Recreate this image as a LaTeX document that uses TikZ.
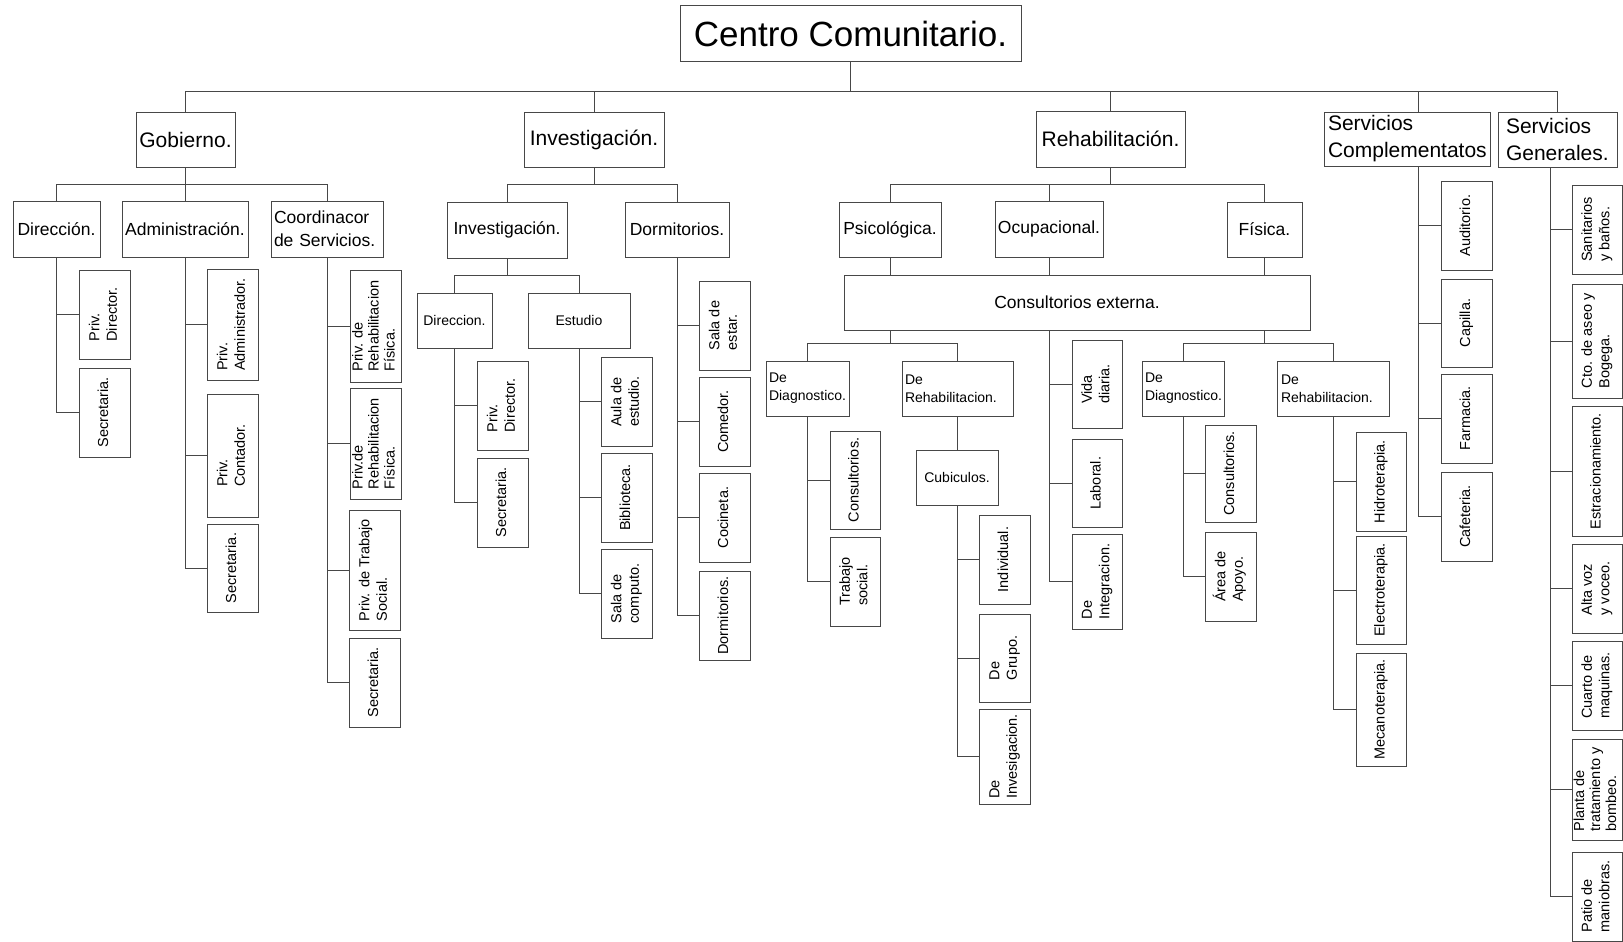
\documentclass[tikz,border=0pt]{standalone}
\usepackage{fontspec}
\setmainfont{Liberation Sans}
\usepackage{graphicx}
\usetikzlibrary{calc}
\newcommand\obox[7][]{\node[box,minimum width={#5-#3},minimum height={#6-#4},#1] (#2) at ({(#3+#5)/2},{(#4+#6)/2}) {#7};}
\newcommand\vtxt[1]{\rotatebox{90}{\begin{tabular}{@{}l@{}}#1\end{tabular}}}
\tikzset{
  box/.style={draw=black!72, line width=1pt, inner sep=0pt, align=center},
  fA/.style={font=\fontsize{35}{42}\selectfont},
  fB/.style={font=\fontsize{21}{27}\selectfont},
  fC/.style={font=\fontsize{17.5}{22.7}\selectfont},
  fD/.style={font=\fontsize{14}{18}\selectfont},
  fV/.style={font=\fontsize{14.5}{17.5}\selectfont},
  fV3/.style={font=\fontsize{14.5}{16}\selectfont},
  con/.style={draw=black!72, line width=1pt},
}
\begin{document}
\begin{tikzpicture}[x=1pt,y=-1pt]
\useasboundingbox (0,0) rectangle (1623,942);
% level 0 and 1
\obox[fA]{centro}{680}{6}{1021}{62}{Centro Comunitario.}
\obox[fB]{gob}{136}{112}{235}{167}{Gobierno.}
\obox[fB]{inv}{524}{112}{664}{167}{Investigación.}
\obox[fB]{reh}{1036}{111}{1185}{167}{Rehabilitación.}
\obox[fB,align=left,text width=158]{sc}{1324}{112}{1490}{166}{Servicios\\Complementatos}
\obox[fB,align=left,text width=103]{sg}{1498}{112}{1617}{167}{Servicios\\Generales.}
% level 2
\obox[fC]{dir}{13}{201}{100}{257}{Dirección.}
\obox[fC]{adm}{122}{201}{248}{257}{Administración.}
\obox[fC,align=left,text width=106]{coo}{271}{201}{383}{257}{Coordinacor\\de Servicios.}
\obox[fC]{invs}{447}{202}{567}{258}{Investigación.}
\obox[fC]{dorm}{625}{202}{729}{257}{Dormitorios.}
\obox[fC]{psic}{839}{202}{941}{257}{Psicológica.}
\obox[fC]{ocup}{995}{201}{1103}{257}{Ocupacional.}
\obox[fC]{fis}{1227}{202}{1302}{257}{Física.}
\obox[fC]{ce}{844}{275}{1310}{330}{Consultorios externa.}
% level 3
\obox[fD]{dirc}{417}{293}{492}{348}{Direccion.}
\obox[fD]{est}{528}{293}{630}{348}{Estudio}
\obox[fD,align=left,text width=77]{dd1}{766}{361}{849}{416}{De\\Diagnostico.}
\obox[fD,align=left,text width=105]{dr1}{902}{361}{1013}{416}{De\\Rehabilitacion.}
\obox[fD,align=left,text width=76]{dd2}{1142}{361}{1224}{416}{De\\Diagnostico.}
\obox[fD,align=left,text width=104]{dr2}{1277}{361}{1389}{416}{De\\Rehabilitacion.}
\obox[fD]{cub}{916}{450}{998}{505}{Cubiculos.}
% vertical boxes
\obox[fV]{pdir}{79}{270}{130}{359}{\vtxt{Priv.\\Director.}}
\obox[fV]{sec1}{79}{368}{130}{457}{\vtxt{Secretaria.}}
\obox[fV]{padm}{207}{269}{258}{380}{\vtxt{Priv.\\Administrador.}}
\obox[fV]{pcont}{207}{394}{258}{517}{\vtxt{Priv.\\Contador.}}
\obox[fV]{sec2}{207}{524}{258}{612}{\vtxt{Secretaria.}}
\obox[fV3]{prf1}{350}{270}{401}{382}{\vtxt{Priv. de\\Rehabilitacion\\Física.}}
\obox[fV3]{prf2}{350}{388}{401}{499}{\vtxt{Priv.de\\Rehabilitacion\\Física.}}
\obox[fV]{pts}{349}{510}{400}{630}{\vtxt{Priv. de Trabajo\\Social.}}
\obox[fV]{sec3}{349}{638}{400}{727}{\vtxt{Secretaria.}}
\obox[fV]{pdir2}{477}{361}{528}{450}{\vtxt{Priv.\\Director.}}
\obox[fV]{sec4}{477}{458}{528}{547}{\vtxt{Secretaria.}}
\obox[fV]{aula}{601}{357}{652}{446}{\vtxt{Aula de\\estudio.}}
\obox[fV]{bibl}{601}{453}{652}{542}{\vtxt{Biblioteca.}}
\obox[fV]{comp}{601}{549}{652}{638}{\vtxt{Sala de\\computo.}}
\obox[fV]{sala}{699}{281}{750}{370}{\vtxt{Sala de\\estar.}}
\obox[fV]{com}{699}{377}{750}{466}{\vtxt{Comedor.}}
\obox[fV]{coc}{699}{473}{750}{562}{\vtxt{Cocineta.}}
\obox[fV]{dorm2}{699}{571}{750}{660}{\vtxt{Dormitorios.}}
\obox[fV]{cons1}{830}{431}{880}{529}{\vtxt{Consultorios.}}
\obox[fV]{trab}{830}{537}{880}{626}{\vtxt{Trabajo\\social.}}
\obox[fV]{ind}{979}{515}{1030}{604}{\vtxt{Individual.}}
\obox[fV]{grp}{979}{614}{1030}{702}{\vtxt{De\\Grupo.}}
\obox[fV]{invg}{979}{709}{1030}{804}{\vtxt{De\\Invesigacion.}}
\obox[fV]{vida}{1072}{340}{1122}{428}{\vtxt{Vida\\diaria.}}
\obox[fV]{lab}{1072}{439}{1122}{527}{\vtxt{Laboral.}}
\obox[fV]{integ}{1072}{534}{1122}{629}{\vtxt{De\\Integracion.}}
\obox[fV]{cons2}{1205}{425}{1256}{522}{\vtxt{Consultorios.}}
\obox[fV]{area}{1205}{532}{1256}{621}{\vtxt{Área de\\Apoyo.}}
\obox[fV]{hidro}{1356}{432}{1406}{531}{\vtxt{Hidroterapia.}}
\obox[fV]{elec}{1356}{536}{1406}{644}{\vtxt{Electroterapia.}}
\obox[fV]{meca}{1356}{653}{1406}{766}{\vtxt{Mecanoterapia.}}
\obox[fV]{aud}{1441}{181}{1492}{270}{\vtxt{Auditorio.}}
\obox[fV]{cap}{1441}{279}{1492}{367}{\vtxt{Capilla.}}
\obox[fV]{farm}{1441}{374}{1492}{463}{\vtxt{Farmacia.}}
\obox[fV]{caf}{1441}{472}{1492}{561}{\vtxt{Cafeteria.}}
\obox[fV]{san}{1572}{185}{1622}{274}{\vtxt{Sanitarios\\y baños.}}
\obox[fV]{cto}{1572}{284}{1622}{398}{\vtxt{Cto. de aseo y\\Bogega.}}
\obox[fV]{estr}{1572}{406}{1622}{536}{\vtxt{Estracionamiento.}}
\obox[fV]{alta}{1572}{544}{1622}{633}{\vtxt{Alta voz\\y voceo.}}
\obox[fV]{cuar}{1572}{641}{1622}{730}{\vtxt{Cuarto de\\maquinas.}}
\obox[fV3]{plan}{1572}{739}{1622}{840}{\vtxt{Planta de\\tratamiento y\\bombeo.}}
\obox[fV]{pat}{1572}{852}{1622}{941}{\vtxt{Patio de\\maniobras.}}
% connectors: top
\coordinate (tb) at ($(centro.south)+(0,29)$);
\draw[con] (centro.south) -- (tb);
\draw[con] (gob.north) |- (tb);
\draw[con] (inv.north) |- (tb);
\draw[con] (reh.north) |- (tb);
\draw[con] ([xshift=11pt]sc.north) |- (tb);
\draw[con] (sg.north) |- (tb);
% Gobierno
\coordinate (gb) at ($(gob.south)+(0,17)$);
\draw[con] (gob.south) -- (gob.south |- adm.north);
\draw[con] (dir.north) |- (gb);
\draw[con] (coo.north) |- (gb);
\draw[con] (dir.south) |- (pdir.west);
\draw[con] (dir.south) |- (sec1.west);
\draw[con] (adm.south) |- (padm.west);
\draw[con] (adm.south) |- (pcont.west);
\draw[con] (adm.south) |- (sec2.west);
\draw[con] (coo.south) |- (prf1.west);
\draw[con] (coo.south) |- (prf2.west);
\draw[con] (coo.south) |- (pts.west);
\draw[con] (coo.south) |- (sec3.west);
% Investigacion
\coordinate (ib) at ($(inv.south)+(0,17)$);
\draw[con] (inv.south) -- (ib);
\draw[con] (invs.north) |- (ib);
\draw[con] (dorm.north) |- (ib);
\coordinate (isb) at ($(invs.south)+(0,17)$);
\draw[con] (invs.south) -- (isb);
\draw[con] (dirc.north) |- (isb);
\draw[con] (est.north) |- (isb);
\draw[con] (dirc.south) |- (pdir2.west);
\draw[con] (dirc.south) |- (sec4.west);
\draw[con] (est.south) |- (aula.west);
\draw[con] (est.south) |- (bibl.west);
\draw[con] (est.south) |- (comp.west);
\draw[con] (dorm.south) |- (sala.west);
\draw[con] (dorm.south) |- (com.west);
\draw[con] (dorm.south) |- (coc.west);
\draw[con] (dorm.south) |- (dorm2.west);
% Rehabilitacion
\coordinate (rb) at ($(reh.south)+(0,17)$);
\draw[con] (reh.south) -- (rb);
\draw[con] (psic.north) |- (rb);
\draw[con] (ocup.north) |- (rb);
\draw[con] (fis.north) |- (rb);
\draw[con] (psic.south) -- (psic.south |- ce.north);
\draw[con] (ocup.south) -- (ocup.south |- ce.north);
\draw[con] (fis.south) -- (fis.south |- ce.north);
\coordinate (clt) at (ce.south -| psic.south);
\coordinate (clb) at ($(clt)+(0,13)$);
\draw[con] (clt) -- (clb);
\draw[con] (dd1.north) |- (clb);
\draw[con] (dr1.north) |- (clb);
\coordinate (crt) at (ce.south -| fis.south);
\coordinate (crb) at ($(crt)+(0,13)$);
\draw[con] (crt) -- (crb);
\draw[con] (dd2.north) |- (crb);
\draw[con] (dr2.north) |- (crb);
\coordinate (cmt) at (ce.south -| ocup.south);
\draw[con] (cmt) |- (vida.west);
\draw[con] (cmt) |- (lab.west);
\draw[con] (cmt) |- (integ.west);
\draw[con] (dd1.south) |- (cons1.west);
\draw[con] (dd1.south) |- (trab.west);
\draw[con] (dr1.south) -- (dr1.south |- cub.north);
\draw[con] (cub.south) |- (ind.west);
\draw[con] (cub.south) |- (grp.west);
\draw[con] (cub.south) |- (invg.west);
\draw[con] (dd2.south) |- (cons2.west);
\draw[con] (dd2.south) |- (area.west);
\draw[con] (dr2.south) |- (hidro.west);
\draw[con] (dr2.south) |- (elec.west);
\draw[con] (dr2.south) |- (meca.west);
% Servicios
\draw[con] ([xshift=11pt]sc.south) |- (aud.west);
\draw[con] ([xshift=11pt]sc.south) |- (cap.west);
\draw[con] ([xshift=11pt]sc.south) |- (farm.west);
\draw[con] ([xshift=11pt]sc.south) |- (caf.west);
\draw[con] ([xshift=-7.5pt]sg.south) |- (san.west);
\draw[con] ([xshift=-7.5pt]sg.south) |- (cto.west);
\draw[con] ([xshift=-7.5pt]sg.south) |- (estr.west);
\draw[con] ([xshift=-7.5pt]sg.south) |- (alta.west);
\draw[con] ([xshift=-7.5pt]sg.south) |- (cuar.west);
\draw[con] ([xshift=-7.5pt]sg.south) |- (plan.west);
\draw[con] ([xshift=-7.5pt]sg.south) |- (pat.west);
\end{tikzpicture}
\end{document}
